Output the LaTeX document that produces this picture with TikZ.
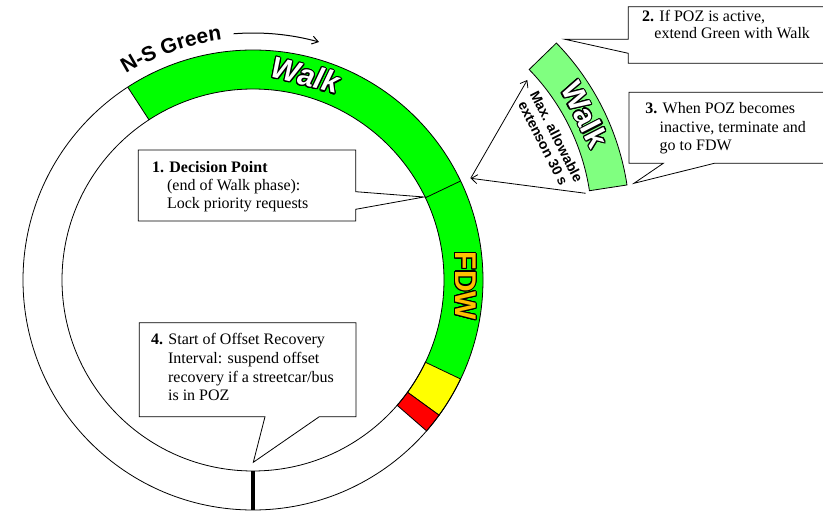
\documentclass[tikz,border=0pt]{standalone}
\usepackage{fontspec}
\setmainfont{Liberation Serif}
\setsansfont{Liberation Sans}
\usepackage{contour}
\usetikzlibrary{arrows.meta,decorations.text}
\definecolor{ringgreen}{RGB}{0,255,0}
\definecolor{lightgreen}{RGB}{128,255,128}
\definecolor{fdwcol}{RGB}{255,192,0}
\definecolor{sigyellow}{RGB}{255,255,0}
\definecolor{sigred}{RGB}{255,0,0}
\contourlength{1.1pt}
\newcommand{\ringIn}{191}
\newcommand{\ringOut}{230}
\begin{document}
\begin{tikzpicture}[x=1pt,y=1pt,line width=0.8pt,
  callout/.style={draw=black,fill=white,line width=0.8pt,line join=miter},
  note/.style={anchor=base west,align=left,inner sep=0pt},
  bigword/.style={font=\sffamily\bfseries\fontsize{30}{30}\selectfont,inner sep=0pt},
  barb/.style={-{Straight Barb[length=6pt,width=9pt]}}]
\useasboundingbox (0,0) rectangle (823,512);
\coordinate (C) at (253,232);
% ---------- ring ----------
\begin{scope}[shift={(C)}]
  \fill[ringgreen] (123:\ringIn) arc[start angle=123,end angle=-25.5,radius=\ringIn]
     -- (-25.5:\ringOut) arc[start angle=-25.5,end angle=123,radius=\ringOut] -- cycle;
  \filldraw[fill=sigyellow] (-25.5:\ringIn) arc[start angle=-25.5,end angle=-36,radius=\ringIn]
     -- (-36:\ringOut) arc[start angle=-36,end angle=-25.5,radius=\ringOut] -- cycle;
  \filldraw[fill=sigred] (-36:\ringIn) arc[start angle=-36,end angle=-41,radius=\ringIn]
     -- (-41:\ringOut) arc[start angle=-41,end angle=-36,radius=\ringOut] -- cycle;
  \draw (0,0) circle[radius=\ringIn];
  \draw (0,0) circle[radius=\ringOut];
  \draw (123:\ringIn) -- (123:\ringOut);
  \draw (25.5:\ringIn) -- (25.5:\ringOut);
  \draw[line width=4pt] (270:\ringIn) -- (270:\ringOut);
  \node[bigword,font=\sffamily\bfseries\itshape\fontsize{30}{30}\selectfont,text=white,rotate=-14.4] (walkA) at (75.6:211) {\contour{black}{Walk}};
  \node[bigword,text=fdwcol,rotate=-90] (fdw) at (-1.6:212) {\contour{black}{FDW}};
  \path[decorate,decoration={text along path,text align=center,
     text={|\sffamily\bfseries\fontsize{21}{21}\selectfont|N-S Green}}]
     (131:242) arc[start angle=131,end angle=88,radius=242];
  \draw[line width=1pt,-{Straight Barb[length=6pt,width=8pt]}] (94.5:247) arc[start angle=94.5,end angle=74.5,radius=247];
\end{scope}
% ---------- extension band ----------
\begin{scope}[shift={(370,287.7)}]
  \filldraw[fill=lightgreen] (8.7:222) arc[start angle=8.7,end angle=44.2,radius=222]
     -- (44.2:260) arc[start angle=44.2,end angle=8.7,radius=260] -- cycle;
  \node[bigword,text=white,rotate=-63] (walkB) at (27:241) {\contour{black}{Walk}};
\end{scope}
\node[font=\sffamily\bfseries\fontsize{14}{15}\selectfont,align=center,rotate=-63,inner sep=0pt] (maxext) at (550,372) {Max. allowable\\extenson 30 s};
\coordinate (K) at (470.7,333.7);
\coordinate (Ktop) at (527.3,432);
\coordinate (Kbot) at (585.7,318.7);
\draw[barb] (K) -- (Ktop);
\draw[barb] (Kbot) -- (K);
% ---------- callout 1 ----------
\coordinate (tip1) at (424,315);
\path[callout] (138.3,362) -- (355.7,362) -- (355.7,320.3) -- (tip1) -- (355.7,302.7) -- (355.7,291) -- (138.3,291) -- cycle;
\node[note,font=\fontsize{16}{18.3}\selectfont] (t1) at (151.7,303.1)
  {\textbf{1. Decision Point}\\\hspace*{15pt}(end of Walk phase):\\\hspace*{15pt}Lock priority requests};
% ---------- callout 2 ----------
\coordinate (tip2) at (565,472.7);
\path[callout] (830,505.3) -- (628.3,505.3) -- (628.3,472.7) -- (tip2) -- (628.3,458.7) -- (628.3,448.7) -- (830,448.7);
\node[note,font=\fontsize{16}{17.3}\selectfont] (t2) at (641.7,473.1)
  {\textbf{2.} If POZ is active,\\\hspace*{12.3pt}extend Green with Walk};
% ---------- callout 3 ----------
\coordinate (tip3) at (634,328.7);
\path[callout] (830,419.7) -- (629,419.7) -- (629,348.7) -- (663.3,348.7) -- (tip3) -- (714.3,348.7) -- (830,348.7);
\node[note,font=\fontsize{16}{18.3}\selectfont] (t3) at (645,361.5)
  {\textbf{3.} When POZ becomes\\\hspace*{14.3pt}inactive, terminate and\\\hspace*{14.3pt}go to FDW};
% ---------- callout 4 ----------
\coordinate (tip4) at (253.3,49.7);
\path[callout] (139.3,189.3) -- (356,189.3) -- (356,95.3) -- (319.3,95.3) -- (tip4) -- (265,95.3) -- (139.3,95.3) -- cycle;
\node[note,font=\fontsize{16}{18.6}\selectfont] (t4) at (150.7,111.2)
  {\textbf{4.} Start of Offset Recovery\\\hspace*{17pt}Interval: suspend offset\\\hspace*{17pt}recovery if a streetcar/bus\\\hspace*{17pt}is in POZ};
\end{tikzpicture}
\end{document}
